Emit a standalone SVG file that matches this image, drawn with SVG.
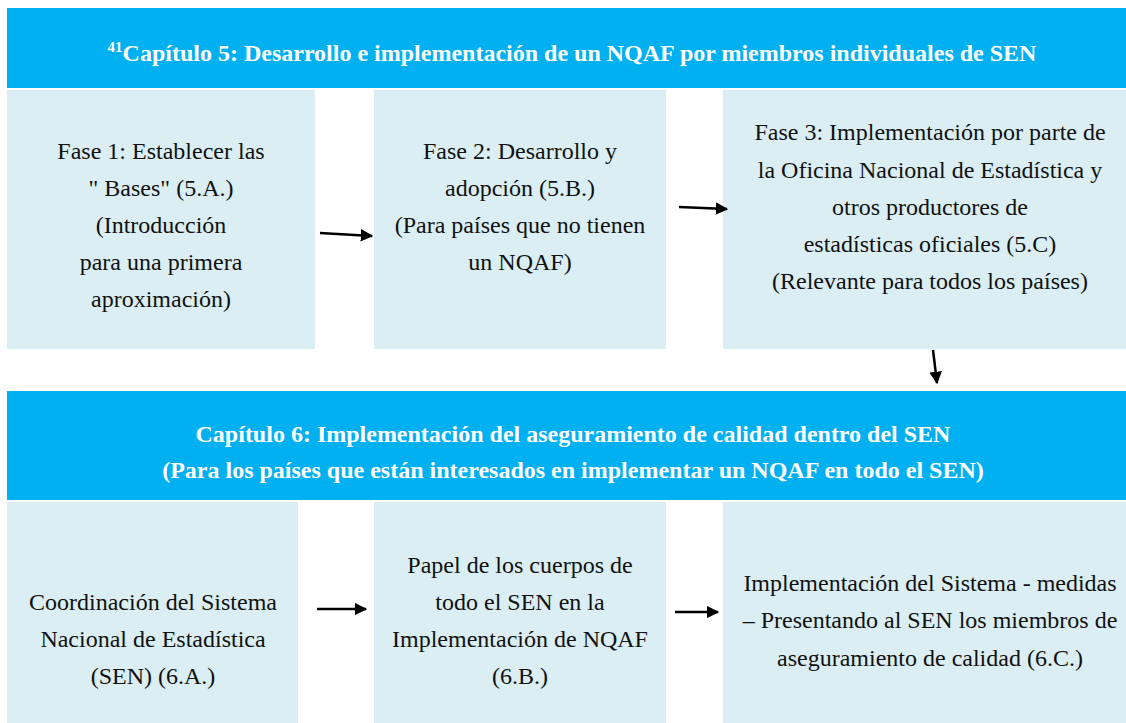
<svg xmlns="http://www.w3.org/2000/svg" width="1126" height="723" viewBox="0 0 1126 723">
<defs>
<style>
.hdr{fill:#00B0F0}
.box{fill:#DAEEF3}
.t{font-family:"Liberation Serif","Times New Roman",serif;font-size:24px;fill:#111;text-anchor:middle}
.h{font-family:"Liberation Serif","Times New Roman",serif;font-size:24px;font-weight:bold;fill:#fff;text-anchor:middle}
.c{stroke:#000;stroke-width:2.5;fill:none}
</style>
<marker id="ah" viewBox="0 0 10 10" refX="9" refY="5" markerWidth="5" markerHeight="5" markerUnits="strokeWidth" orient="auto">
<path d="M0,0 L10,5 L0,10 z" fill="#000"/>
</marker>
</defs>
<rect width="1126" height="723" fill="#fff"/>
<g id="header1">
<rect class="hdr" x="7" y="8" width="1119" height="80"/>
<text class="h" x="572" y="61"><tspan font-size="15" dy="-9">41</tspan><tspan dy="9">Capítulo 5: Desarrollo e implementación de un NQAF por miembros individuales de SEN</tspan></text>
</g>
<g id="fase1">
<rect class="box" x="7" y="90" width="308" height="259"/>
<text class="t" x="161" y="159">Fase 1: Establecer las</text>
<text class="t" x="161" y="196">" Bases" (5.A.)</text>
<text class="t" x="161" y="233">(Introducción</text>
<text class="t" x="161" y="270">para una primera</text>
<text class="t" x="161" y="307">aproximación)</text>
</g>
<g id="fase2">
<rect class="box" x="374" y="90" width="292" height="259"/>
<text class="t" x="520" y="159">Fase 2: Desarrollo y</text>
<text class="t" x="520" y="196">adopción (5.B.)</text>
<text class="t" x="520" y="233">(Para países que no tienen</text>
<text class="t" x="520" y="270">un NQAF)</text>
</g>
<g id="fase3">
<rect class="box" x="723" y="90" width="403" height="259"/>
<text class="t" x="930" y="140">Fase 3: Implementación por parte de</text>
<text class="t" x="930" y="178">la Oficina Nacional de Estadística y</text>
<text class="t" x="930" y="215">otros productores de</text>
<text class="t" x="930" y="252">estadísticas oficiales (5.C)</text>
<text class="t" x="930" y="289">(Relevante para todos los países)</text>
</g>
<g id="header2">
<rect class="hdr" x="7" y="391" width="1119" height="109"/>
<text class="h" x="573" y="442">Capítulo 6: Implementación del aseguramiento de calidad dentro del SEN</text>
<text class="h" x="573" y="478">(Para los países que están interesados en implementar un NQAF en todo el SEN)</text>
</g>
<g id="coord">
<rect class="box" x="7" y="502" width="291" height="221"/>
<text class="t" x="153" y="610">Coordinación del Sistema</text>
<text class="t" x="153" y="647">Nacional de Estadística</text>
<text class="t" x="153" y="684">(SEN) (6.A.)</text>
</g>
<g id="papel">
<rect class="box" x="374" y="502" width="292" height="221"/>
<text class="t" x="520" y="573">Papel de los cuerpos de</text>
<text class="t" x="520" y="610">todo el SEN en la</text>
<text class="t" x="520" y="647">Implementación de NQAF</text>
<text class="t" x="520" y="684">(6.B.)</text>
</g>
<g id="impl">
<rect class="box" x="723" y="502" width="403" height="221"/>
<text class="t" x="930" y="591">Implementación del Sistema - medidas</text>
<text class="t" x="930" y="628">– Presentando al SEN los miembros de</text>
<text class="t" x="930" y="666">aseguramiento de calidad (6.C.)</text>
</g>
<g id="connectors">
<path class="c" d="M320,233 L372,236" marker-end="url(#ah)"/>
<path class="c" d="M679,207 L727,209" marker-end="url(#ah)"/>
<path class="c" d="M933,350 L937,383" marker-end="url(#ah)"/>
<path class="c" d="M317,609 L366,609" marker-end="url(#ah)"/>
<path class="c" d="M675,612 L718,612" marker-end="url(#ah)"/>
</g>
</svg>
